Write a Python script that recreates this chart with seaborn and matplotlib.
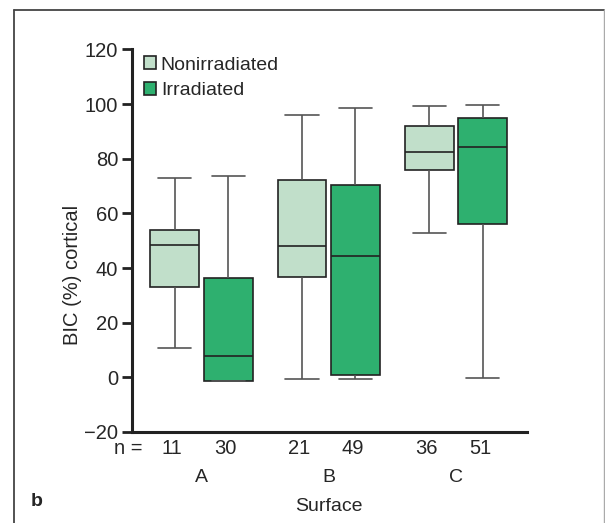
import numpy as np
import pandas as pd
import matplotlib
matplotlib.use("Agg")
import matplotlib.pyplot as plt
from matplotlib.lines import Line2D
from matplotlib.patches import Patch
import seaborn as sns

# five-number summaries: min, Q1, median, Q3, max
surfaces = ["A", "B", "C"]
groups = ["Nonirradiated", "Irradiated"]
nonirr_stats = [[10.7, 33.1, 48.4, 54.1, 73.1],
                [-0.7, 36.8, 47.9, 72.1, 96.2],
                [53.0, 75.8, 82.3, 92.1, 99.3]]
irr_stats = [[-1.2, -1.2, 7.8, 36.3, 73.7],
             [-0.6, 0.9, 44.5, 70.5, 98.4],
             [-0.4, 56.3, 84.2, 95.1, 99.5]]
nonirr_n = [11, 21, 36]
irr_n = [30, 49, 51]
yticks = [-20, 0, 20, 40, 60, 80, 100, 120]

colors = ["#c1dfca", "#2eb06f"]

rows = []
for s, a, b in zip(surfaces, nonirr_stats, irr_stats):
    for v in a:
        rows.append((s, groups[0], v))
    for v in b:
        rows.append((s, groups[1], v))
df = pd.DataFrame(rows, columns=["Surface", "Group", "BIC"])
counts = {(s, groups[0]): n for s, n in zip(surfaces, nonirr_n)}
counts.update({(s, groups[1]): n for s, n in zip(surfaces, irr_n)})

sns.set_style("ticks")
plt.rcParams["font.family"] = ["Liberation Sans", "DejaVu Sans"]

fig = plt.figure(figsize=(6.05, 5.23), dpi=100)
ax = fig.add_axes([0.2182, 0.174, 0.6522, 0.7314])

sns.boxplot(data=df, x="Surface", y="BIC", hue="Group", order=surfaces,
            hue_order=groups, palette=colors, saturation=1, whis=(0, 100),
            width=0.84, gap=0.09, linecolor="#222222", linewidth=1.2,
            legend=False, ax=ax)

# style whiskers / caps and read box centres for the n labels
centres = []
for gi, cont in enumerate(ax.containers):
    for bi, box in enumerate(cont.boxes):
        ext = box.get_path().get_extents()
        cx = (ext.x0 + ext.x1) / 2
        centres.append((cx, counts[(surfaces[bi], groups[gi])]))
    for w in cont.whiskers:
        w.set_color("#555555")
        w.set_linewidth(1.2)
    for i, c in enumerate(cont.caps):
        ext = cont.boxes[i // 2].get_path().get_extents()
        xd = np.asarray(c.get_xdata(), dtype=float)
        m = xd.mean()
        c.set_xdata([m - 0.34 * ext.width, m + 0.34 * ext.width])
        c.set_color("#555555")
        c.set_linewidth(1.2)

ax.set_xlim(-0.546, 2.555)
ax.set_ylim(-20, 120)
ax.set_yticks(yticks)
ax.tick_params(axis="y", labelsize=14.5, length=7, width=2, pad=3, color="#222222")
ax.tick_params(axis="x", labelsize=14, length=0, pad=27)
for sp in ["top", "right"]:
    ax.spines[sp].set_visible(False)
for sp in ["left", "bottom"]:
    ax.spines[sp].set_linewidth(2.2)
    ax.spines[sp].set_color("#222222")

ax.set_xlabel("Surface", fontsize=14, labelpad=8)
ax.set_ylabel("BIC (%) cortical", fontsize=14.5)
ax.yaxis.set_label_coords(-0.128, 0.41)

for cx, n in centres:
    ax.annotate(str(n), xy=(cx, 0), xycoords=ax.get_xaxis_transform(),
                xytext=(-2, -12), textcoords="offset points",
                ha="center", va="center", fontsize=14.5)
ax.annotate("n =", xy=(0, 0), xycoords="axes fraction", xytext=(-3, -12),
            textcoords="offset points", ha="center", va="center", fontsize=14.5)

handles = [Patch(facecolor=c, edgecolor="#222222", linewidth=1.2) for c in colors]
ax.legend(handles, groups, loc="upper left", bbox_to_anchor=(0.03, 0.982),
          frameon=False, fontsize=14, handlelength=0.62, handleheight=0.62,
          handletextpad=0.25, labelspacing=0.45, borderpad=0, borderaxespad=0)

fig.text(37 / 605, 1 - 502 / 523, "b", fontsize=14, fontweight="bold",
         ha="center", va="center")

# outer frame of the panel
fig.add_artist(Line2D([14 / 605, 14 / 605], [0, 1 - 10 / 523],
                      transform=fig.transFigure, color="#444444", lw=1.3))
fig.add_artist(Line2D([14 / 605, 604 / 605], [1 - 10 / 523, 1 - 10 / 523],
                      transform=fig.transFigure, color="#444444", lw=1.3))
fig.add_artist(Line2D([604 / 605, 604 / 605], [0, 1 - 10 / 523],
                      transform=fig.transFigure, color="#aaaaaa", lw=1.0))

fig.savefig("out.png", dpi=100)
